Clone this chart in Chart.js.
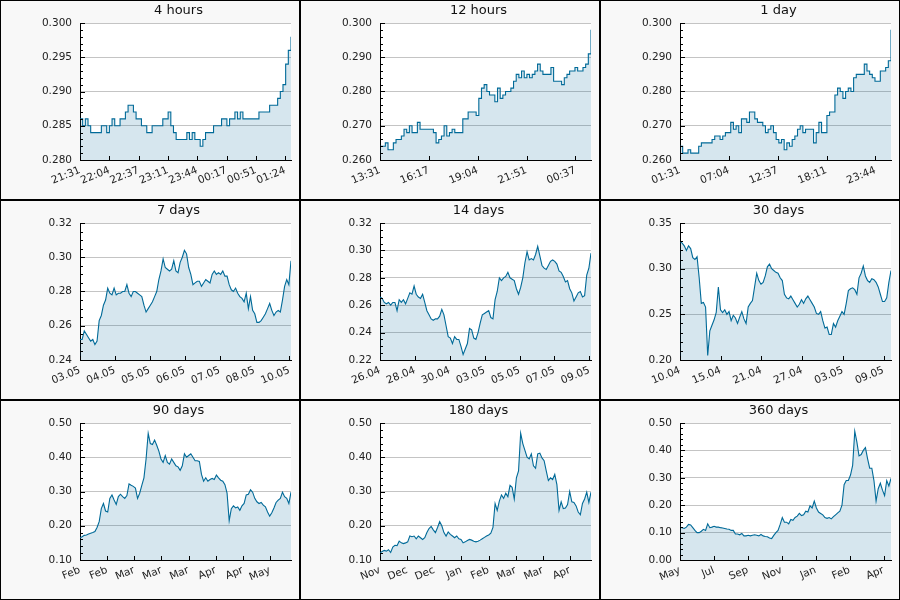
<!DOCTYPE html>
<html>
<head>
<meta charset="utf-8">
<script src="https://cdn.jsdelivr.net/npm/chart.js@4.4.0/dist/chart.umd.min.js"></script>
<style>
  html, body { margin: 0; padding: 0; background: #fff; }
  #grid { display: grid; grid-template-columns: repeat(3, 300px); grid-template-rows: repeat(3, 200px); width: 900px; height: 600px; }
  .cell { box-sizing: border-box; border: 1px solid #000; background: #f8f8f8; width: 300px; height: 200px; }
  canvas { display: block; }
</style>
</head>
<body>
<div id="grid"></div>
<script>
// price history, one array per time window (evenly spaced samples, oldest first)
const series4h = [0.286,0.285,0.286,0.285,0.284,0.284,0.284,0.284,0.285,0.285,0.284,0.285,0.286,0.285,0.285,0.286,0.286,0.287,0.288,0.288,
  0.287,0.286,0.286,0.285,0.285,0.284,0.284,0.285,0.285,0.285,0.285,0.286,0.286,0.287,0.285,0.284,0.283,0.283,0.283,0.283,
  0.284,0.283,0.284,0.283,0.283,0.282,0.283,0.284,0.284,0.284,0.285,0.285,0.285,0.286,0.286,0.285,0.286,0.286,0.287,0.286,
  0.287,0.286,0.286,0.286,0.286,0.286,0.286,0.287,0.287,0.287,0.287,0.288,0.288,0.288,0.289,0.290,0.291,0.294,0.296,0.298];
const series12h = [0.264,0.264,0.265,0.263,0.263,0.265,0.266,0.266,0.267,0.269,0.268,0.270,0.268,0.268,0.271,0.269,0.269,0.269,0.269,0.269,
  0.268,0.265,0.266,0.267,0.270,0.267,0.268,0.269,0.268,0.268,0.268,0.272,0.272,0.274,0.274,0.274,0.273,0.278,0.281,0.282,
  0.280,0.279,0.279,0.277,0.281,0.278,0.279,0.280,0.280,0.281,0.283,0.285,0.284,0.286,0.284,0.285,0.284,0.285,0.286,0.288,
  0.286,0.285,0.285,0.285,0.287,0.283,0.283,0.283,0.282,0.284,0.285,0.286,0.286,0.287,0.286,0.286,0.287,0.288,0.291,0.298];
const series1d = [0.264,0.262,0.262,0.263,0.262,0.262,0.262,0.264,0.265,0.265,0.265,0.265,0.266,0.267,0.267,0.266,0.267,0.268,0.268,0.271,
  0.269,0.270,0.268,0.272,0.272,0.271,0.274,0.274,0.272,0.271,0.271,0.270,0.268,0.269,0.270,0.268,0.266,0.265,0.266,0.263,
  0.265,0.264,0.266,0.267,0.269,0.270,0.268,0.269,0.269,0.269,0.265,0.268,0.271,0.268,0.268,0.273,0.274,0.274,0.279,0.281,
  0.280,0.278,0.280,0.281,0.280,0.284,0.285,0.285,0.285,0.288,0.286,0.285,0.284,0.283,0.283,0.286,0.286,0.287,0.289,0.298];
const series7d = [0.252,0.252,0.257,0.255,0.253,0.251,0.252,0.249,0.251,0.263,0.266,0.272,0.275,0.282,0.279,0.278,0.282,0.278,0.279,0.279,
  0.280,0.280,0.284,0.279,0.277,0.280,0.280,0.279,0.278,0.277,0.272,0.268,0.270,0.272,0.274,0.277,0.280,0.287,0.292,0.299,
  0.294,0.293,0.292,0.293,0.298,0.292,0.291,0.297,0.300,0.304,0.302,0.294,0.290,0.284,0.285,0.286,0.286,0.283,0.285,0.287,
  0.286,0.285,0.290,0.292,0.290,0.291,0.290,0.292,0.289,0.289,0.284,0.281,0.280,0.282,0.279,0.277,0.276,0.274,0.279,0.270,
  0.277,0.269,0.267,0.262,0.262,0.263,0.265,0.267,0.270,0.273,0.269,0.266,0.268,0.269,0.268,0.275,0.283,0.287,0.284,0.298];
const series14d = [0.266,0.265,0.262,0.261,0.262,0.260,0.262,0.262,0.256,0.264,0.262,0.264,0.261,0.265,0.269,0.268,0.274,0.268,0.266,0.265,
  0.268,0.262,0.256,0.253,0.250,0.249,0.250,0.250,0.252,0.257,0.253,0.245,0.237,0.236,0.232,0.237,0.235,0.235,0.230,0.224,
  0.228,0.232,0.243,0.242,0.236,0.235,0.240,0.247,0.253,0.254,0.255,0.256,0.251,0.250,0.264,0.270,0.280,0.278,0.280,0.281,
  0.284,0.280,0.279,0.278,0.272,0.268,0.273,0.280,0.291,0.299,0.293,0.294,0.293,0.297,0.303,0.296,0.289,0.287,0.286,0.289,
  0.292,0.293,0.292,0.290,0.285,0.284,0.281,0.277,0.278,0.272,0.269,0.263,0.266,0.269,0.270,0.266,0.267,0.282,0.287,0.298];
const series30d = [0.330,0.328,0.325,0.320,0.325,0.322,0.312,0.310,0.313,0.290,0.262,0.263,0.258,0.205,0.232,0.238,0.244,0.252,0.280,0.255,
  0.252,0.255,0.250,0.253,0.243,0.249,0.246,0.240,0.247,0.253,0.245,0.240,0.258,0.262,0.265,0.280,0.295,0.287,0.283,0.285,
  0.292,0.302,0.305,0.300,0.298,0.296,0.295,0.290,0.287,0.272,0.268,0.267,0.270,0.266,0.262,0.258,0.261,0.266,0.262,0.267,
  0.270,0.266,0.262,0.258,0.251,0.250,0.253,0.243,0.235,0.236,0.228,0.228,0.240,0.236,0.243,0.248,0.253,0.250,0.262,0.276,
  0.278,0.279,0.277,0.272,0.290,0.295,0.303,0.292,0.287,0.285,0.289,0.288,0.285,0.280,0.272,0.264,0.264,0.268,0.285,0.298];
const series90d = [0.165,0.168,0.172,0.173,0.176,0.178,0.180,0.183,0.195,0.212,0.250,0.265,0.243,0.240,0.280,0.290,0.275,0.262,0.285,0.292,
  0.285,0.280,0.288,0.322,0.318,0.315,0.310,0.280,0.295,0.318,0.340,0.395,0.470,0.440,0.437,0.450,0.435,0.418,0.395,0.385,
  0.405,0.385,0.380,0.395,0.385,0.375,0.372,0.362,0.375,0.410,0.400,0.405,0.410,0.400,0.390,0.390,0.388,0.350,0.330,0.340,
  0.330,0.335,0.338,0.335,0.348,0.340,0.333,0.330,0.320,0.295,0.215,0.250,0.258,0.252,0.255,0.245,0.258,0.265,0.290,0.292,
  0.305,0.298,0.280,0.270,0.265,0.268,0.260,0.255,0.240,0.228,0.238,0.252,0.268,0.275,0.280,0.298,0.285,0.280,0.265,0.298];
const series180d = [0.120,0.125,0.128,0.126,0.130,0.122,0.138,0.143,0.142,0.155,0.150,0.148,0.150,0.153,0.170,0.168,0.170,0.162,0.170,0.165,
  0.160,0.165,0.180,0.192,0.198,0.188,0.180,0.195,0.212,0.200,0.180,0.170,0.182,0.175,0.170,0.165,0.170,0.162,0.160,0.150,
  0.153,0.157,0.160,0.158,0.155,0.153,0.155,0.158,0.162,0.166,0.170,0.173,0.178,0.195,0.265,0.245,0.272,0.290,0.280,0.295,
  0.285,0.318,0.312,0.278,0.340,0.360,0.470,0.440,0.420,0.400,0.395,0.410,0.375,0.368,0.410,0.412,0.398,0.390,0.360,0.332,
  0.340,0.335,0.350,0.320,0.245,0.270,0.250,0.252,0.262,0.300,0.270,0.268,0.258,0.240,0.232,0.265,0.278,0.298,0.268,0.298];
const series360d = [0.120,0.118,0.115,0.120,0.130,0.128,0.118,0.108,0.100,0.100,0.105,0.112,0.108,0.132,0.118,0.120,0.123,0.120,0.120,0.118,
  0.117,0.115,0.113,0.112,0.108,0.108,0.095,0.095,0.092,0.097,0.088,0.088,0.090,0.088,0.090,0.092,0.090,0.088,0.093,0.088,
  0.086,0.085,0.080,0.078,0.090,0.100,0.108,0.130,0.155,0.138,0.138,0.132,0.148,0.145,0.155,0.160,0.170,0.162,0.165,0.178,
  0.175,0.198,0.190,0.215,0.190,0.175,0.170,0.165,0.155,0.152,0.155,0.150,0.158,0.165,0.172,0.178,0.200,0.275,0.290,0.290,
  0.310,0.345,0.470,0.430,0.380,0.385,0.400,0.410,0.370,0.335,0.335,0.290,0.215,0.260,0.280,0.255,0.235,0.290,0.270,0.298];

const titles = ['4 hours', '12 hours', '1 day', '7 days', '14 days', '30 days', '90 days', '180 days', '360 days'];
const seriesList = [series4h, series12h, series1d, series7d, series14d, series30d, series90d, series180d, series360d];
// window length and x tick spacing, in seconds
const spanSec = [14400, 43200, 86400, 604800, 1209600, 2592000, 7776000, 15552000, 31104000];
const xStepSec = [2000, 10000, 20000, 100000, 200000, 500000, 1000000, 2000000, 5000000];
const xTickLabels = [
  ['21:31', '22:04', '22:37', '23:11', '23:44', '00:17', '00:51', '01:24'],
  ['13:31', '16:17', '19:04', '21:51', '00:37'],
  ['01:31', '07:04', '12:37', '18:11', '23:44'],
  ['03.05', '04.05', '05.05', '06.05', '07.05', '08.05', '10.05'],
  ['26.04', '28.04', '30.04', '03.05', '05.05', '07.05', '09.05'],
  ['10.04', '15.04', '21.04', '27.04', '03.05', '09.05'],
  ['Feb', 'Feb', 'Mar', 'Mar', 'Mar', 'Apr', 'Apr', 'May'],
  ['Nov', 'Dec', 'Dec', 'Jan', 'Feb', 'Mar', 'Mar', 'Apr'],
  ['May', 'Jul', 'Sep', 'Nov', 'Jan', 'Feb', 'Apr']
];
const yMin = [0.28, 0.26, 0.26, 0.24, 0.22, 0.20, 0.10, 0.10, 0.00];
const yMax = [0.30, 0.30, 0.30, 0.32, 0.32, 0.35, 0.50, 0.50, 0.50];
const yMajor = [0.005, 0.01, 0.01, 0.02, 0.02, 0.05, 0.1, 0.1, 0.1];
const yMinor = [0.001, 0.002, 0.002, 0.005, 0.005, 0.01, 0.02, 0.02, 0.02];
const yDecimals = [3, 3, 3, 2, 2, 2, 2, 2, 2];
const steppedPanels = [true, true, true, false, false, false, false, false, false];

Chart.defaults.font.family = '"DejaVu Sans", sans-serif';
Chart.defaults.color = '#222';

// white plot area, title over the plot, inward tick marks like the original
const plotFrame = {
  id: 'plotFrame',
  beforeDraw(chart) {
    const a = chart.chartArea, c = chart.ctx;
    c.save();
    c.fillStyle = '#ffffff';
    c.fillRect(a.left, a.top, a.right - a.left, a.bottom - a.top);
    c.fillStyle = '#111';
    c.font = '13px "DejaVu Sans", sans-serif';
    c.textAlign = 'center';
    c.textBaseline = 'middle';
    c.fillText(chart.options.plugins.panelTitle.text, (a.left + a.right) / 2 - 7, 10);
    c.restore();
  },
  afterDatasetsDraw(chart) {
    const a = chart.chartArea, c = chart.ctx;
    const ys = chart.scales.y, xs = chart.scales.x;
    c.save();
    c.strokeStyle = '#000';
    c.lineWidth = 1;
    c.beginPath();
    ys.ticks.forEach(t => {
      const py = Math.round(ys.getPixelForValue(t.value)) + 0.5;
      c.moveTo(a.left, py);
      c.lineTo(a.left + (t.major ? 5 : 3), py);
    });
    xs.ticks.forEach(t => {
      const px = Math.round(xs.getPixelForValue(t.value)) + 0.5;
      c.moveTo(px, a.bottom);
      c.lineTo(px, a.bottom - 4);
    });
    c.stroke();
    c.restore();
  }
};

const grid = document.getElementById('grid');

titles.forEach((title, p) => {
  const cell = document.createElement('div');
  cell.className = 'cell';
  const canvas = document.createElement('canvas');
  canvas.width = 298;
  canvas.height = 198;
  cell.appendChild(canvas);
  grid.appendChild(cell);

  const values = seriesList[p];
  const span = spanSec[p];
  const points = values.map((v, i) => ({ x: i * span / (values.length - 1), y: v }));

  new Chart(canvas.getContext('2d'), {
    type: 'line',
    data: {
      datasets: [{
        data: points,
        borderColor: '#006a98',
        borderWidth: 1.1,
        backgroundColor: 'rgba(0, 100, 150, 0.16)',
        fill: 'start',
        pointRadius: 0,
        stepped: steppedPanels[p],
        tension: 0
      }]
    },
    options: {
      responsive: false,
      animation: false,
      devicePixelRatio: 1,
      layout: { padding: { left: 0, right: 8, top: 22, bottom: 0 } },
      scales: {
        x: {
          type: 'linear',
          min: 0,
          max: span,
          afterFit: scale => { scale.height = 39; },
          afterBuildTicks: scale => {
            scale.ticks = xTickLabels[p].map((l, k) => ({ value: k * xStepSec[p] }));
          },
          grid: { display: false, drawTicks: false },
          border: { display: true, color: '#000', width: 1 },
          ticks: {
            autoSkip: false,
            minRotation: 22,
            maxRotation: 22,
            padding: 4,
            font: { size: 10.5 },
            callback: (v, i) => xTickLabels[p][i]
          }
        },
        y: {
          min: yMin[p],
          max: yMax[p],
          afterFit: scale => { scale.width = 79; },
          afterBuildTicks: scale => {
            const n = Math.round((yMax[p] - yMin[p]) / yMinor[p]);
            const ticks = [];
            for (let k = 0; k <= n; k++) {
              const v = +(yMin[p] + k * yMinor[p]).toFixed(6);
              const r = v / yMajor[p];
              ticks.push({ value: v, major: Math.abs(r - Math.round(r)) < 1e-6 });
            }
            scale.ticks = ticks;
          },
          grid: {
            drawTicks: false,
            lineWidth: 1,
            color: ctx => (ctx.tick && ctx.tick.major) ? '#c4c4c4' : 'rgba(0,0,0,0)'
          },
          border: { display: true, color: '#000', width: 1 },
          ticks: {
            autoSkip: false,
            padding: 8,
            font: { size: 10.5 },
            callback: (v, i, ticks) => ticks[i].major ? v.toFixed(yDecimals[p]) : ''
          }
        }
      },
      plugins: {
        legend: { display: false },
        tooltip: { enabled: false },
        title: { display: false },
        panelTitle: { text: title }
      }
    },
    plugins: [plotFrame]
  });
});
</script>
</body>
</html>
